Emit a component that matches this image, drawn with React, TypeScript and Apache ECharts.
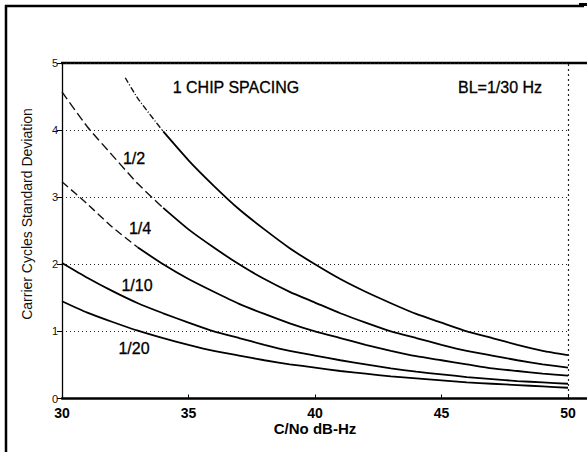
import React, { useEffect, useRef } from "react";
import * as echarts from "echarts";

// C/No (dB-Hz)
const cnoFull = [30, 31, 32, 33, 34, 35, 36, 37, 38, 39, 40, 41, 42, 43, 44, 45, 46, 47, 48, 49, 50];
const cnoTop = [32.5, 33, 34, 35, 36, 37, 38, 39, 40, 41, 42, 43, 44, 45, 46, 47, 48, 49, 50];

// Carrier cycles standard deviation
const sigmaTop = [4.78, 4.47, 3.98, 3.55, 3.17, 2.82, 2.52, 2.24, 2.0, 1.78, 1.59, 1.42, 1.26, 1.13, 1.0, 0.9, 0.8, 0.71, 0.645];
const sigmaHalf = [4.57, 4.05, 3.62, 3.2, 2.84, 2.52, 2.25, 2.0, 1.78, 1.59, 1.43, 1.27, 1.13, 1.0, 0.9, 0.8, 0.71, 0.64, 0.57, 0.51, 0.46];
const sigmaQuarter = [3.23, 2.9, 2.55, 2.25, 2.0, 1.78, 1.59, 1.41, 1.26, 1.12, 1.0, 0.9, 0.8, 0.71, 0.63, 0.57, 0.51, 0.45, 0.41, 0.37, 0.34];
const sigmaTenth = [2.02, 1.8, 1.6, 1.42, 1.27, 1.13, 1.0, 0.9, 0.8, 0.71, 0.64, 0.57, 0.51, 0.45, 0.4, 0.36, 0.32, 0.29, 0.26, 0.24, 0.22];
const sigmaTwentieth = [1.45, 1.28, 1.14, 1.01, 0.9, 0.8, 0.71, 0.64, 0.57, 0.51, 0.46, 0.41, 0.37, 0.33, 0.3, 0.27, 0.24, 0.22, 0.2, 0.18, 0.16];

const curveLabels = ["1/2", "1/4", "1/10", "1/20"];
const xTicks = [30, 35, 40, 45, 50];

const FONT = "'Liberation Sans', Arial, sans-serif";

function pairs(xs: number[], ys: number[]) {
  return xs.map((x, i) => [x, ys[i]]);
}

function splitSeries(name: string, xs: number[], ys: number[], breakX: number, dash: number[] | null) {
  const all = pairs(xs, ys);
  const out: any[] = [];
  const base = {
    type: "line",
    showSymbol: false,
    symbol: "none",
    smooth: 0.2,
    silent: true,
  };
  if (dash) {
    out.push({
      ...base,
      name: name + "-upper",
      data: all.filter((p) => p[0] <= breakX),
      lineStyle: { color: "#111", width: 1.4, type: dash },
    });
    out.push({
      ...base,
      name,
      data: all.filter((p) => p[0] >= breakX),
      lineStyle: { color: "#000", width: 1.8 },
    });
  } else {
    out.push({ ...base, name, data: all, lineStyle: { color: "#000", width: 1.8 } });
  }
  return out;
}

export default function App() {
  const ref = useRef<HTMLDivElement>(null);

  useEffect(() => {
    if (!ref.current) return;
    const chart = echarts.init(ref.current, null, { renderer: "svg" });

    const series = [
      ...splitSeries("1", cnoTop, sigmaTop, 34, [6, 2, 1, 2]),
      ...splitSeries(curveLabels[0], cnoFull, sigmaHalf, 34, [9, 4]),
      ...splitSeries(curveLabels[1], cnoFull, sigmaQuarter, 33, [8, 4]),
      ...splitSeries(curveLabels[2], cnoFull, sigmaTenth, 0, null),
      ...splitSeries(curveLabels[3], cnoFull, sigmaTwentieth, 0, null),
    ];

    const labelPos = [
      [134, 158],
      [140, 228],
      [137, 285],
      [134, 348],
    ];

    const graphic: any[] = [
      // outer frame
      { type: "line", shape: { x1: 6, y1: 5, x2: 6, y2: 452 }, style: { stroke: "#000", lineWidth: 2.5 } },
      { type: "line", shape: { x1: 5, y1: 6, x2: 584, y2: 6 }, style: { stroke: "#000", lineWidth: 2.5 } },
      { type: "rect", shape: { x: 579, y: 3, width: 8, height: 3 }, style: { fill: "#000" } },
      // top plot border
      { type: "line", shape: { x1: 61, y1: 63, x2: 587, y2: 63 }, style: { stroke: "#000", lineWidth: 2.5 } },
      // bottom axis extension
      { type: "line", shape: { x1: 568, y1: 398.5, x2: 587, y2: 398.5 }, style: { stroke: "#000", lineWidth: 2.5 } },
      // right dotted border
      { type: "line", shape: { x1: 568.5, y1: 64, x2: 568.5, y2: 398 }, style: { stroke: "#222", lineWidth: 1.2, lineDash: [2, 3] } },
      // annotations
      { type: "text", x: 236, y: 87, style: { text: "1 CHIP SPACING", font: "16px " + FONT, fill: "#000", stroke: "#000", lineWidth: 0.3, align: "center", verticalAlign: "middle" } },
      { type: "text", x: 500, y: 87, style: { text: "BL=1/30 Hz", font: "16px " + FONT, fill: "#000", stroke: "#000", lineWidth: 0.3, align: "center", verticalAlign: "middle" } },
      { type: "text", x: 315, y: 428, style: { text: "C/No dB-Hz", font: "bold 15px " + FONT, fill: "#000", align: "center", verticalAlign: "middle" } },
      {
        type: "text",
        x: 27,
        y: 214,
        rotation: Math.PI / 2,
        style: { text: "Carrier Cycles Standard Deviation", font: "14px " + FONT, fill: "#111", align: "center", verticalAlign: "middle" },
      },
      ...curveLabels.map((t, i) => ({
        type: "text",
        x: labelPos[i][0],
        y: labelPos[i][1],
        style: { text: t, font: "16px " + FONT, fill: "#000", stroke: "#000", lineWidth: 0.3, align: "center", verticalAlign: "middle" },
      })),
    ];

    chart.setOption({
      animation: false,
      backgroundColor: "#fff",
      grid: { left: 62, right: 19, top: 63, bottom: 53.5, containLabel: false },
      xAxis: {
        type: "value",
        min: xTicks[0],
        max: xTicks[xTicks.length - 1],
        interval: 5,
        axisLine: { show: true, onZero: false, lineStyle: { color: "#000", width: 2.5 } },
        axisTick: { show: true, inside: true, length: 4, lineStyle: { color: "#000", width: 1 } },
        axisLabel: { color: "#000", fontFamily: FONT, fontWeight: "bold", fontSize: 14, margin: 7 },
        splitLine: { show: false },
      },
      yAxis: {
        type: "value",
        min: 0,
        max: 5,
        interval: 1,
        axisLine: { show: true, onZero: false, lineStyle: { color: "#000", width: 1.3 } },
        axisTick: { show: true, length: 5, lineStyle: { color: "#000", width: 1 } },
        axisLabel: { color: "#111", fontFamily: FONT, fontSize: 11, margin: 4 },
        splitLine: { show: true, lineStyle: { color: "#222", width: 1, type: [1, 3] } },
      },
      series,
      graphic,
    });

    return () => chart.dispose();
  }, []);

  return (
    <div
      ref={ref}
      style={{ position: "absolute", left: 0, top: 0, width: 587, height: 452, background: "#fff" }}
    />
  );
}
